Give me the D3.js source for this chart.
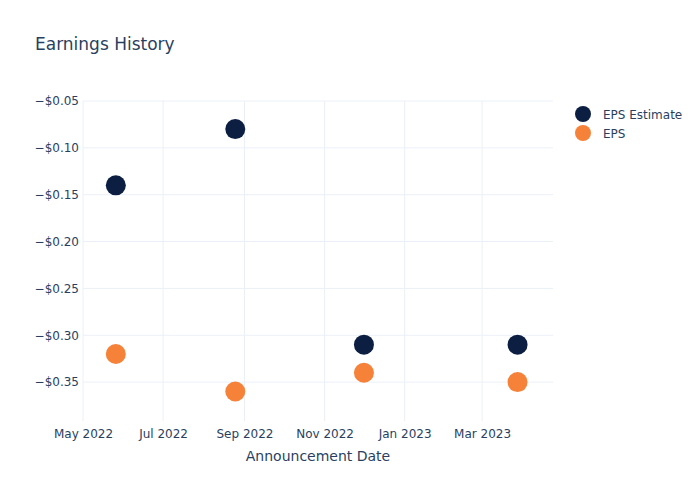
<!DOCTYPE html>
<html>
<head>
<meta charset="utf-8">
<script src="https://cdn.jsdelivr.net/npm/d3@7"></script>
<style>
  body { margin: 0; background: #fff; }
  text { font-family: "DejaVu Sans", Verdana, sans-serif; fill: #2a3f5f; }
</style>
</head>
<body>
<div id="chart"></div>
<script>
// Data
const dates = ['2022-05-26', '2022-08-25', '2022-12-01', '2023-03-28'];
const epsEstimate = [-0.14, -0.08, -0.31, -0.31];
const epsActual = [-0.32, -0.36, -0.34, -0.35];
const yTicks = [-0.05, -0.10, -0.15, -0.20, -0.25, -0.30, -0.35];
const xTicks = ['2022-05-01', '2022-07-01', '2022-09-01', '2022-11-01', '2023-01-01', '2023-03-01'];

const series = [
  { name: 'EPS Estimate', values: epsEstimate, color: '#0c1f43' },
  { name: 'EPS', values: epsActual, color: '#f6823a' }
];

const width = 700, height = 500;
const margin = { top: 101, right: 147, bottom: 79, left: 83 };
const parse = d3.timeParse('%Y-%m-%d');

const svg = d3.select('#chart')
  .append('svg')
  .attr('width', width)
  .attr('height', height);

const x = d3.scaleTime()
  .domain([parse('2022-05-01'), parse('2023-04-24')])
  .range([margin.left, width - margin.right]);

const y = d3.scaleLinear()
  .domain([-0.3915, -0.05])
  .range([height - margin.bottom, margin.top]);

// Gridlines
svg.append('g')
  .selectAll('line.xg')
  .data(xTicks)
  .join('line')
  .attr('x1', d => x(parse(d)))
  .attr('x2', d => x(parse(d)))
  .attr('y1', margin.top)
  .attr('y2', height - margin.bottom)
  .attr('stroke', '#ebf0f8')
  .attr('stroke-width', 1);

svg.append('g')
  .selectAll('line.yg')
  .data(yTicks)
  .join('line')
  .attr('x1', margin.left)
  .attr('x2', width - margin.right)
  .attr('y1', d => y(d))
  .attr('y2', d => y(d))
  .attr('stroke', '#ebf0f8')
  .attr('stroke-width', 1);

// Y axis labels
const fmt = v => '\u2212$' + Math.abs(v).toFixed(2);
const yAxis = svg.append('g')
  .attr('transform', `translate(${margin.left},0)`)
  .call(d3.axisLeft(y).tickValues(yTicks).tickFormat(fmt).tickSize(0).tickPadding(4));
yAxis.select('.domain').remove();
yAxis.selectAll('text').style('font-size', '12px').attr('fill', '#2a3f5f');

// X axis labels
const xAxis = svg.append('g')
  .attr('transform', `translate(0,${height - margin.bottom})`)
  .call(d3.axisBottom(x).tickValues(xTicks.map(parse)).tickFormat(d3.timeFormat('%b %Y')).tickSize(0).tickPadding(8));
xAxis.select('.domain').remove();
xAxis.selectAll('text').style('font-size', '12px').attr('fill', '#2a3f5f');

// Points
series.forEach(s => {
  svg.append('g')
    .selectAll('circle')
    .data(s.values)
    .join('circle')
    .attr('cx', (d, i) => x(parse(dates[i])))
    .attr('cy', d => y(d))
    .attr('r', 10)
    .attr('fill', s.color);
});

// Title
svg.append('text')
  .attr('x', 35)
  .attr('y', 50)
  .style('font-size', '17px')
  .text('Earnings History');

// X axis title
svg.append('text')
  .attr('x', (margin.left + width - margin.right) / 2)
  .attr('y', 461)
  .attr('text-anchor', 'middle')
  .style('font-size', '14px')
  .text('Announcement Date');

// Legend
const legend = svg.append('g')
  .attr('transform', 'translate(583,114)');
series.forEach((s, i) => {
  const g = legend.append('g').attr('transform', `translate(0,${i * 19})`);
  g.append('circle').attr('r', 8).attr('fill', s.color);
  g.append('text')
    .attr('x', 20)
    .attr('dy', '0.4em')
    .style('font-size', '12px')
    .text(s.name);
});
</script>
</body>
</html>
